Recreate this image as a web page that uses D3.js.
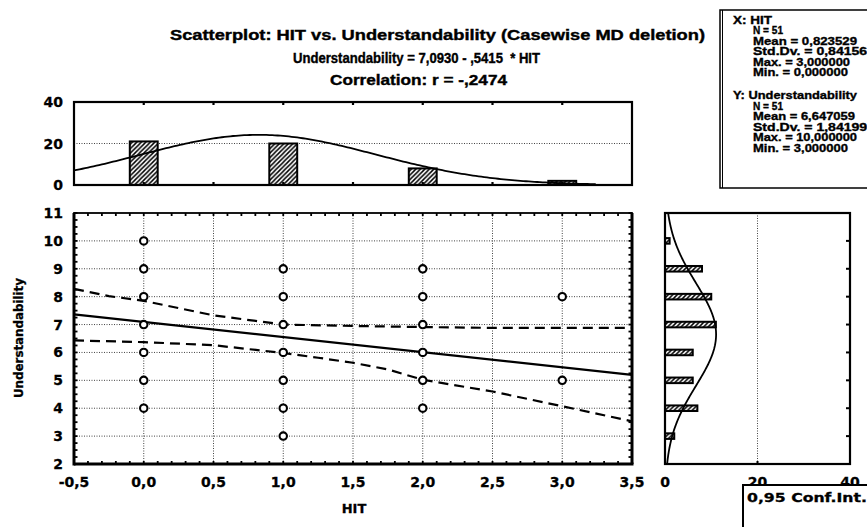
<!DOCTYPE html>
<html><head><meta charset="utf-8">
<script src="https://cdn.jsdelivr.net/npm/d3@7"></script>
<style>
html,body{margin:0;padding:0;background:#fff;}
svg text{font-family:"DejaVu Sans","Liberation Sans",Arial,sans-serif;font-weight:bold;fill:#000;}
svg text.arial{font-family:"Liberation Sans",Arial,sans-serif;}
</style></head>
<body>
<svg id="chart" width="867" height="527"></svg>
<script>
// ---------- data ----------
const titleLines = ["Scatterplot: HIT vs. Understandability (Casewise MD deletion)",
                    "Understandability = 7,0930 - ,5415  * HIT",
                    "Correlation: r = -,2474"];
const xStatsLines = ["X: HIT","N = 51","Mean = 0,823529","Std.Dv. = 0,841567","Max. = 3,000000","Min. = 0,000000"];
const yStatsLines = ["Y: Understandability","N = 51","Mean = 6,647059","Std.Dv. = 1,841994","Max. = 10,000000","Min. = 3,000000"];
const intercept = 7.0930, slope = -0.5415;
const xMean = 0.823529, xSD = 0.841567, yMean = 6.647059, ySD = 1.841994, nCases = 51;
const pointsX = [0,0,0,0,0,0,0, 1,1,1,1,1,1,1, 2,2,2,2,2,2, 3,3];
const pointsY = [4,5,6,7,8,9,10, 3,4,5,6,7,8,9, 4,5,6,7,8,9, 5,8];
const xHistCats = [0,1,2,3];
const xHistCounts = [21,20,8,2];
const yHistCats = [3,4,5,6,7,8,9,10];
const yHistCounts = [2,7,6,6,11,10,8,1];
const upperBandX = [-0.5,-0.25,0,0.5,1.0,1.5,2.0,2.5,3.0,3.5];
const upperBandY = [8.28,8.02,7.85,7.33,7.0,6.95,6.91,6.88,6.88,6.88];
const lowerBandX = [-0.5,0,0.5,1.0,1.25,1.5,1.75,2.0,2.5,3.0,3.5];
const lowerBandY = [6.43,6.37,6.26,5.98,5.81,5.63,5.39,5.02,4.6,4.07,3.53];
const xTicks = [-0.5,0,0.5,1,1.5,2,2.5,3,3.5];
const yTicks = [2,3,4,5,6,7,8,9,10,11];
const histTicks = [0,20,40];

const fmt = v => d3.format(".1f")(v).replace(".", ",").replace("−","-");

const svg = d3.select("#chart");
const defs = svg.append("defs");
const pat = defs.append("pattern").attr("id","hatch").attr("patternUnits","userSpaceOnUse")
  .attr("width",4.5).attr("height",4.5);
pat.append("rect").attr("width",4.5).attr("height",4.5).attr("fill","#fff");
pat.append("path").attr("d","M-1,1 l2,-2 M0,4.5 l4.5,-4.5 M3.5,5.5 l2,-2").attr("stroke","#000").attr("stroke-width",1.5);

// ---------- scales ----------
const x = d3.scaleLinear([-0.5,3.5],[74,632]);
const y = d3.scaleLinear([2,11],[464,213]);
const topY = d3.scaleLinear([0,40],[185,102]);
const sideX = d3.scaleLinear([0,40],[665,850]);

// ---------- title ----------
const titleX = [170,293,330], titleLen = [535,247,177], titleBase = [40,63,85];
titleLines.forEach((t,i)=>{
  svg.append("text").attr("class","arial").attr("x",titleX[i]).attr("y",titleBase[i]).attr("font-size",15)
    .attr("xml:space","preserve").attr("stroke","#000").attr("stroke-width",0.4)
    .attr("textLength",titleLen[i]).attr("lengthAdjust","spacingAndGlyphs").text(t);
});

// ---------- stats box ----------
svg.append("rect").attr("x",720).attr("y",10).attr("width",170).attr("height",178)
  .attr("fill","#fff").attr("stroke","#000").attr("stroke-width",1.5);
svg.append("line").attr("x1",722.5).attr("x2",722.5).attr("y1",10).attr("y2",188).attr("stroke","#000").attr("stroke-width",1);
const xsY = [19.5,30.2,40.8,51.3,61.8,72.2];
const xsLen = [39,30,104,122,97,95];
xStatsLines.forEach((t,i)=>{
  svg.append("text").attr("class","arial").attr("x",i===0?733:753).attr("y",xsY[i]+4).attr("font-size",11)
    .attr("stroke","#000").attr("stroke-width",0.35)
    .attr("textLength",xsLen[i]).attr("lengthAdjust","spacingAndGlyphs").text(t);
});
const ysY = [95,105.6,116.2,126.7,137.2,147.6];
const ysLen = [124,30,102,122,104,95];
yStatsLines.forEach((t,i)=>{
  svg.append("text").attr("class","arial").attr("x",i===0?733:753).attr("y",ysY[i]+4).attr("font-size",11)
    .attr("stroke","#000").attr("stroke-width",0.35)
    .attr("textLength",ysLen[i]).attr("lengthAdjust","spacingAndGlyphs").text(t);
});

// ---------- top histogram ----------
const gTop = svg.append("g");
gTop.append("line").attr("x1",x(-0.5)).attr("x2",x(3.5)).attr("y1",topY(20)).attr("y2",topY(20))
  .attr("stroke","#444").attr("stroke-dasharray","1,1.5");
gTop.selectAll("rect.bar").data(xHistCats).join("rect").attr("class","bar")
  .attr("x",d=>x(d-0.1)).attr("width",d=>x(d+0.1)-x(d-0.1))
  .attr("y",(d,i)=>topY(xHistCounts[i])).attr("height",(d,i)=>topY(0)-topY(xHistCounts[i]))
  .attr("fill","url(#hatch)").attr("stroke","#000").attr("stroke-width",2);
const normX = d3.range(-0.5,3.26,0.02).map(v=>[v, nCases/(xSD*Math.sqrt(2*Math.PI))*Math.exp(-0.5*((v-xMean)/xSD)**2)]);
gTop.append("path").datum(normX).attr("fill","none").attr("stroke","#000").attr("stroke-width",1.8)
  .attr("d",d3.line().x(d=>x(d[0])).y(d=>topY(d[1])));
gTop.append("rect").attr("x",x(-0.5)).attr("y",topY(40)).attr("width",x(3.5)-x(-0.5)).attr("height",topY(0)-topY(40))
  .attr("fill","none").attr("stroke","#000").attr("stroke-width",2.2);
xTicks.slice(1,-1).forEach(v=>{
  gTop.append("line").attr("x1",x(v)).attr("x2",x(v)).attr("y1",topY(40)).attr("y2",topY(40)+3).attr("stroke","#000").attr("stroke-width",2.2);
  gTop.append("line").attr("x1",x(v)).attr("x2",x(v)).attr("y1",topY(0)).attr("y2",topY(0)-3).attr("stroke","#000").attr("stroke-width",2.2);
});
histTicks.forEach(v=>{
  gTop.append("text").attr("x",63).attr("y",topY(v)+5).attr("text-anchor","end").attr("font-size",14)
    .attr("stroke","#000").attr("stroke-width",0.3).text(v);
});

// ---------- main scatter ----------
const gM = svg.append("g");
xTicks.slice(1,-1).forEach(v=>{
  gM.append("line").attr("x1",x(v)).attr("x2",x(v)).attr("y1",y(2)).attr("y2",y(11))
    .attr("stroke","#444").attr("stroke-dasharray","1,1.5");
});
yTicks.slice(1,-1).forEach(v=>{
  gM.append("line").attr("x1",x(-0.5)).attr("x2",x(3.5)).attr("y1",y(v)).attr("y2",y(v))
    .attr("stroke","#444").attr("stroke-dasharray","1,1.5");
});
// minor ticks
d3.range(-0.5,3.5001,0.1).forEach(v=>{
  gM.append("line").attr("x1",x(v)).attr("x2",x(v)).attr("y1",y(2)).attr("y2",y(2)-3).attr("stroke","#000").attr("stroke-width",1.8);
  gM.append("line").attr("x1",x(v)).attr("x2",x(v)).attr("y1",y(11)).attr("y2",y(11)+3).attr("stroke","#000").attr("stroke-width",1.8);
});
d3.range(2,11.001,0.25).forEach(v=>{
  gM.append("line").attr("x1",x(-0.5)).attr("x2",x(-0.5)+3.5).attr("y1",y(v)).attr("y2",y(v)).attr("stroke","#000").attr("stroke-width",1.8);
  gM.append("line").attr("x1",x(3.5)).attr("x2",x(3.5)-3.5).attr("y1",y(v)).attr("y2",y(v)).attr("stroke","#000").attr("stroke-width",1.8);
});
// bands
const lineFn = d3.line().x(d=>x(d[0])).y(d=>y(d[1]));
gM.append("path").datum(upperBandX.map((v,i)=>[v,upperBandY[i]])).attr("fill","none").attr("stroke","#000")
  .attr("stroke-width",2.2).attr("stroke-dasharray","10,6").attr("d",lineFn);
gM.append("path").datum(lowerBandX.map((v,i)=>[v,lowerBandY[i]])).attr("fill","none").attr("stroke","#000")
  .attr("stroke-width",2.2).attr("stroke-dasharray","10,6").attr("d",lineFn);
gM.append("path").datum([[-0.5,intercept+slope*-0.5],[3.5,intercept+slope*3.5]]).attr("fill","none").attr("stroke","#000")
  .attr("stroke-width",2.2).attr("d",lineFn);
// points
gM.selectAll("circle").data(pointsX).join("circle").attr("cx",d=>x(d)).attr("cy",(d,i)=>y(pointsY[i]))
  .attr("r",3.7).attr("fill","#fff").attr("stroke","#000").attr("stroke-width",2.1);
// frame
gM.append("rect").attr("x",x(-0.5)).attr("y",y(11)).attr("width",x(3.5)-x(-0.5)).attr("height",y(2)-y(11))
  .attr("fill","none").attr("stroke","#000").attr("stroke-width",1.8);
gM.append("line").attr("x1",x(-0.5)).attr("x2",x(-0.5)).attr("y1",y(11)).attr("y2",y(2)+1.5).attr("stroke","#000").attr("stroke-width",3);
gM.append("line").attr("x1",x(-0.5)).attr("x2",x(3.5)+1.5).attr("y1",y(2)).attr("y2",y(2)).attr("stroke","#000").attr("stroke-width",3);
gM.append("line").attr("x1",x(3.5)).attr("x2",x(3.5)).attr("y1",y(11)).attr("y2",y(2)).attr("stroke","#000").attr("stroke-width",3);
// labels
yTicks.forEach(v=>{
  gM.append("text").attr("x",63).attr("y",y(v)+5).attr("text-anchor","end").attr("font-size",14)
    .attr("stroke","#000").attr("stroke-width",0.3).text(v);
});
xTicks.forEach(v=>{
  gM.append("text").attr("x",x(v)).attr("y",487).attr("text-anchor","middle").attr("font-size",14)
    .attr("stroke","#000").attr("stroke-width",0.3).text(fmt(v));
});
svg.append("text").attr("x",354).attr("y",513).attr("text-anchor","middle").attr("font-size",13)
  .attr("stroke","#000").attr("stroke-width",0.3).text("HIT");
svg.append("text").attr("transform","translate(23,338) rotate(-90)").attr("text-anchor","middle").attr("font-size",13)
  .attr("stroke","#000").attr("stroke-width",0.3)
  .attr("textLength",120).attr("lengthAdjust","spacingAndGlyphs").text("Understandability");

// ---------- side histogram ----------
const gS = svg.append("g");
gS.append("line").attr("x1",sideX(20)).attr("x2",sideX(20)).attr("y1",y(11)).attr("y2",y(2))
  .attr("stroke","#444").attr("stroke-dasharray","1,1.5");
gS.selectAll("rect.bar").data(yHistCats).join("rect").attr("class","bar")
  .attr("y",d=>y(d+0.1)).attr("height",d=>y(d-0.1)-y(d+0.1))
  .attr("x",sideX(0)).attr("width",(d,i)=>sideX(yHistCounts[i])-sideX(0))
  .attr("fill","url(#hatch)").attr("stroke","#000").attr("stroke-width",2);
const normY = d3.range(2,11.001,0.05).map(v=>[v, nCases/(ySD*Math.sqrt(2*Math.PI))*Math.exp(-0.5*((v-yMean)/ySD)**2)]);
gS.append("path").datum(normY).attr("fill","none").attr("stroke","#000").attr("stroke-width",1.8)
  .attr("d",d3.line().x(d=>sideX(d[1])).y(d=>y(d[0])));
gS.append("rect").attr("x",sideX(0)).attr("y",y(11)).attr("width",sideX(40)-sideX(0)).attr("height",y(2)-y(11))
  .attr("fill","none").attr("stroke","#000").attr("stroke-width",2.2);
yTicks.slice(1,-1).forEach(v=>{
  gS.append("line").attr("x1",sideX(40)).attr("x2",sideX(40)-4).attr("y1",y(v)).attr("y2",y(v)).attr("stroke","#000").attr("stroke-width",2);
});
gS.append("line").attr("x1",sideX(20)).attr("x2",sideX(20)).attr("y1",y(2)).attr("y2",y(2)-3).attr("stroke","#000").attr("stroke-width",2);
histTicks.forEach(v=>{
  gS.append("text").attr("x",sideX(v)).attr("y",487).attr("text-anchor","middle").attr("font-size",14)
    .attr("stroke","#000").attr("stroke-width",0.3).text(v);
});

// ---------- conf box ----------
svg.append("rect").attr("x",743).attr("y",485).attr("width",150).attr("height",60)
  .attr("fill","#fff").attr("stroke","#000").attr("stroke-width",2);
svg.append("text").attr("x",747).attr("y",502).attr("font-size",12.5)
  .attr("stroke","#000").attr("stroke-width",0.3)
  .attr("textLength",120).attr("lengthAdjust","spacingAndGlyphs").text("0,95 Conf.Int.");
</script>
</body></html>
